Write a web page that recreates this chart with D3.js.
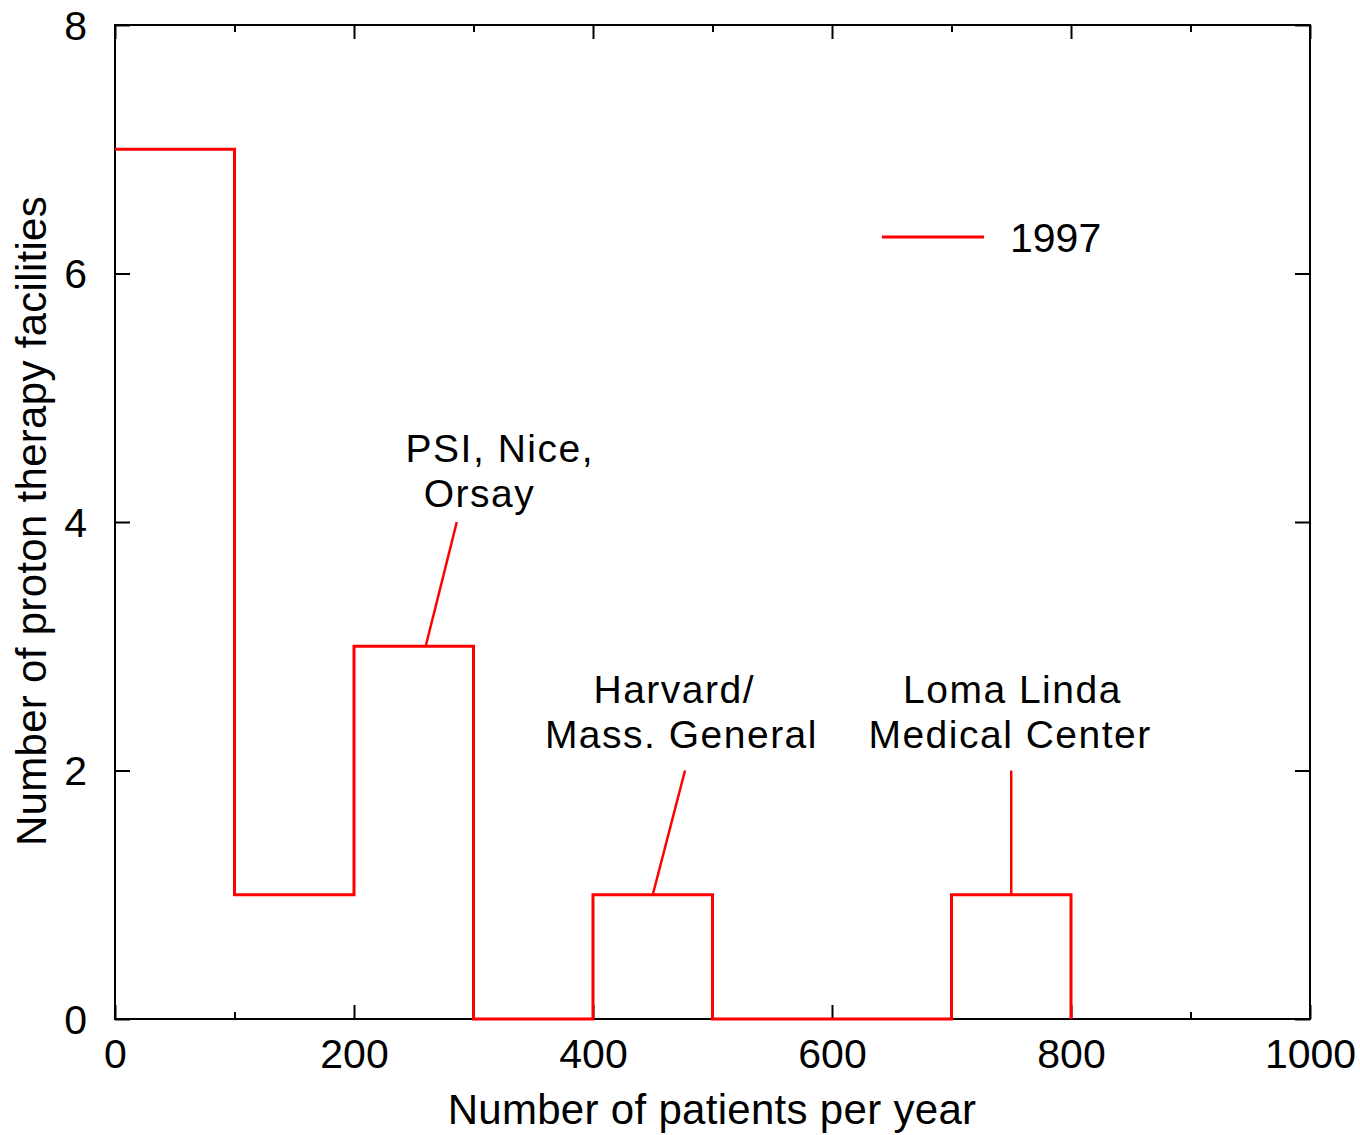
<!DOCTYPE html>
<html>
<head>
<meta charset="utf-8">
<script src="https://cdn.jsdelivr.net/npm/d3@7"></script>
<style>
  html, body { margin: 0; padding: 0; background: #fff; }
  svg { display: block; }
  text { font-family: "Liberation Sans", Arial, Helvetica, sans-serif; fill: #000; }
</style>
</head>
<body>
<svg id="chart" width="1360" height="1135"></svg>
<script>
// Histogram: left edge of each 100-patient bin and the number of facilities in it
const binStarts = [0, 100, 200, 300, 400, 500, 600, 700];
const facilityCounts = [7, 1, 3, 0, 1, 0, 0, 1];
const binWidth = 100;
const seriesName = "1997";

const xMajorTicks = [0, 200, 400, 600, 800, 1000];
const xMinorTicks = [100, 300, 500, 700, 900];
const yMajorTicks = [0, 2, 4, 6, 8];

// Callouts: leader line from a bar top (x0,y0) to below the label (x1,y1)
const calloutLeaders = [
  { x0: 260, y0: 3, x1: 286, y1: 4 },
  { x0: 450, y0: 1, x1: 477, y1: 2 },
  { x0: 750, y0: 1, x1: 750, y1: 2 }
];
// Callout labels: each line has its centre x and baseline y in data coordinates
const calloutLabels = [
  [{ text: "PSI, Nice,", x: 322, y: 4.48 }, { text: "Orsay", x: 305, y: 4.12 }],
  [{ text: "Harvard/", x: 468, y: 2.54 }, { text: "Mass. General", x: 474, y: 2.18 }],
  [{ text: "Loma Linda", x: 751, y: 2.54 }, { text: "Medical Center", x: 749, y: 2.18 }]
];

const svg = d3.select("#chart");
const plotLeft = 115, plotRight = 1310, plotTop = 25, plotBottom = 1019;

const x = d3.scaleLinear().domain([0, 1000]).range([plotLeft, plotRight]);
const y = d3.scaleLinear().domain([0, 8]).range([plotBottom, plotTop]);

const red = "#ff0000";

// Frame
svg.append("rect")
  .attr("x", plotLeft).attr("y", plotTop)
  .attr("width", plotRight - plotLeft).attr("height", plotBottom - plotTop)
  .attr("fill", "none").attr("stroke", "#000").attr("stroke-width", 2);

function styleAxis(g) {
  g.select(".domain").remove();
  g.selectAll(".tick line").attr("stroke", "#000").attr("stroke-width", 2);
}

// Bottom axis: major ticks with labels, minor ticks without
svg.append("g")
  .attr("transform", `translate(0,${plotBottom})`)
  .call(d3.axisBottom(x).tickValues(xMajorTicks).tickSize(-14).tickPadding(20).tickFormat(d3.format("d")))
  .call(styleAxis)
  .call(g => g.selectAll("text").attr("font-size", 41).attr("font-family", null));
svg.append("g")
  .attr("transform", `translate(0,${plotBottom})`)
  .call(d3.axisBottom(x).tickValues(xMinorTicks).tickSize(-7).tickFormat(""))
  .call(styleAxis);

// Top axis mirrors the ticks
svg.append("g")
  .attr("transform", `translate(0,${plotTop})`)
  .call(d3.axisTop(x).tickValues(xMajorTicks).tickSize(-14).tickFormat(""))
  .call(styleAxis);
svg.append("g")
  .attr("transform", `translate(0,${plotTop})`)
  .call(d3.axisTop(x).tickValues(xMinorTicks).tickSize(-7).tickFormat(""))
  .call(styleAxis);

// Left and right axes
svg.append("g")
  .attr("transform", `translate(${plotLeft},0)`)
  .call(d3.axisLeft(y).tickValues(yMajorTicks).tickSize(-15).tickPadding(28).tickFormat(d3.format("d")))
  .call(styleAxis)
  .call(g => g.selectAll("text").attr("font-size", 41).attr("font-family", null).attr("dy", "0.35em"));
svg.append("g")
  .attr("transform", `translate(${plotRight},0)`)
  .call(d3.axisRight(y).tickValues(yMajorTicks).tickSize(-15).tickFormat(""))
  .call(styleAxis);

// Step outline of the histogram
const stepPoints = binStarts.map((b, i) => [b, facilityCounts[i]]);
stepPoints.push([binStarts[binStarts.length - 1] + binWidth, 0]);

const stepLine = d3.line()
  .x(d => x(d[0]))
  .y(d => y(d[1]))
  .curve(d3.curveStepAfter);

svg.append("path")
  .datum(stepPoints)
  .attr("d", stepLine)
  .attr("fill", "none")
  .attr("stroke", red)
  .attr("stroke-width", 3);

// Callout leader lines
svg.append("g").selectAll("line")
  .data(calloutLeaders)
  .join("line")
  .attr("x1", d => x(d.x0)).attr("y1", d => y(d.y0))
  .attr("x2", d => x(d.x1)).attr("y2", d => y(d.y1))
  .attr("stroke", red).attr("stroke-width", 2.5);

// Callout labels: one text element per callout, one tspan per line
svg.append("g").selectAll("text")
  .data(calloutLabels)
  .join("text")
  .attr("text-anchor", "middle")
  .attr("font-size", 39)
  .attr("letter-spacing", 1.5)
  .selectAll("tspan")
  .data(d => d)
  .join("tspan")
  .attr("x", d => x(d.x)).attr("y", d => y(d.y))
  .text(d => d.text);

// Legend
svg.append("line")
  .attr("x1", 882).attr("x2", 984).attr("y1", 237).attr("y2", 237)
  .attr("stroke", red).attr("stroke-width", 3);
svg.append("text")
  .attr("x", 1010).attr("y", 252)
  .attr("font-size", 41)
  .text(seriesName);

// Axis titles
svg.append("text")
  .attr("x", 712).attr("y", 1124)
  .attr("text-anchor", "middle")
  .attr("font-size", 42)
  .attr("letter-spacing", 0.3)
  .text("Number of patients per year");

svg.append("text")
  .attr("transform", "translate(46,521) rotate(-90)")
  .attr("text-anchor", "middle")
  .attr("font-size", 42)
  .attr("letter-spacing", 0.3)
  .text("Number of proton therapy facilities");
</script>
</body>
</html>
